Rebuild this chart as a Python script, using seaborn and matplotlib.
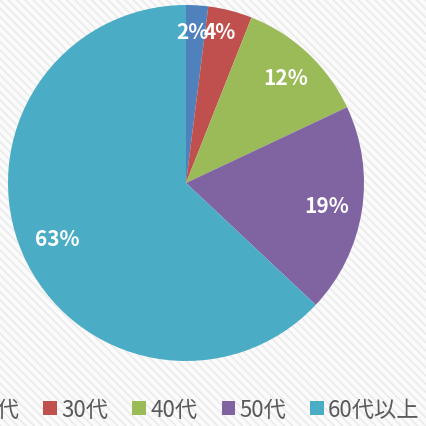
import matplotlib
matplotlib.use("Agg")
import matplotlib.pyplot as plt
import seaborn as sns
import numpy as np
from matplotlib.patches import Rectangle

# ---- data ----
categories = ["20代", "30代", "40代", "50代", "60代以上"]
values = [2, 4, 12, 19, 63]
colors = ["#4F81BD", "#C0504D", "#9BBB59", "#8064A2", "#4BACC6"]

# label placement style (radius fraction, angular nudge in degrees)
label_r = [0.85, 0.87, 0.815, 0.80, 0.79]
label_shift = [1.0, 1.7, 0.0, 0.0, 0.0]

sns.set_style("white")
plt.rcParams["font.family"] = ["Noto Sans CJK JP", "DejaVu Sans"]
plt.rcParams["hatch.linewidth"] = 1.2
plt.rcParams["hatch.color"] = "#e9e9e9"

W = H = 427
fig = plt.figure(figsize=(W / 100, H / 100), dpi=100)
fig.patch.set_facecolor("#fbfbfb")
bg = Rectangle((0, 0), 1, 1, transform=fig.transFigure, facecolor="#fbfbfb",
               edgecolor="#ebebeb", hatch="\\\\\\\\", linewidth=0, zorder=-10)
fig.patches.append(bg)

cx, cy, R = 186, 184, 178
ax = fig.add_axes([(cx - R) / W, (H - cy - R) / H, 2 * R / W, 2 * R / H])
ax.set_facecolor("none")

wedges, texts, autotexts = ax.pie(
    values, colors=colors, startangle=90, counterclock=False,
    autopct=lambda p: f"{p:.0f}%", pctdistance=0.8,
    wedgeprops=dict(linewidth=0.5, edgecolor="none"),
    textprops=dict(color="white", fontsize=15, fontweight="bold",
                   family=["Noto Sans CJK JP", "DejaVu Sans"]))
for w, t, r, s in zip(wedges, autotexts, label_r, label_shift):
    ang = np.deg2rad((w.theta1 + w.theta2) / 2 + s)
    t.set_position((r * np.cos(ang), r * np.sin(ang)))
    t.set_ha("center"); t.set_va("center")
ax.set_xlim(-1, 1); ax.set_ylim(-1, 1)
ax.axis("off")

handles = [Rectangle((0, 0), 1, 1, facecolor=c, edgecolor="none") for c in colors]
leg = fig.legend(handles, categories, loc="center", ncol=5,
                 bbox_to_anchor=(187 / W, 1 - 410 / H), frameon=False,
                 fontsize=16, handlelength=0.59, handleheight=0.59,
                 handletextpad=0.2, columnspacing=1.1, borderaxespad=0,
                 borderpad=0)
for t in leg.get_texts():
    t.set_color("#595959")

fig.savefig("out.png", dpi=100, facecolor=fig.get_facecolor())
